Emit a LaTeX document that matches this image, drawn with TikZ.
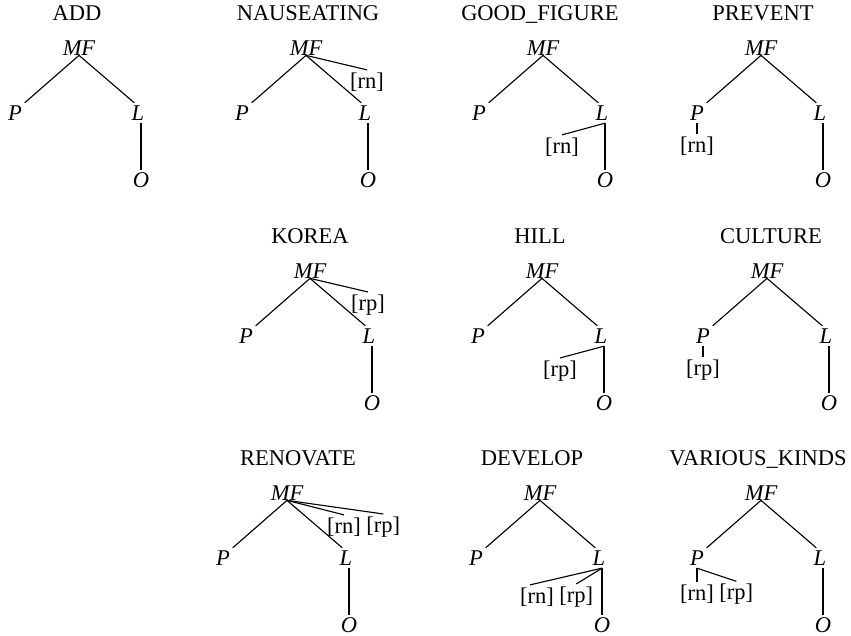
\documentclass[tikz,border=0pt]{standalone}
\usepackage{fontspec}
\setmainfont{Liberation Serif}
\usetikzlibrary{positioning}

\tikzset{
	lab/.style={inner sep=1pt, outer sep=1pt, font=\fontsize{16}{19}\selectfont},
	var/.style={lab, font=\fontsize{16}{19}\selectfont\itshape},
	root/.style={var, inner sep=0pt, outer sep=0pt},
	ttl/.style={lab, anchor=base},
}

% tree: name, MF x, MF y, title x, title
\newcommand{\mftree}[5]{%
	\node[root] (#1mf) at (#2,#3) {MF};
	\node[ttl] (#1t) at (#4,#3-27) {#5};
	\node[var] (#1p) at (#2-64,#3+65) {P};
	\node[var] (#1l) at (#2+59,#3+65) {L};
	\node[var] (#1o) at (#2+62,#3+132) {O};
	\coordinate (#1lb) at (#1o.north |- #1l.south);
	\draw (#1mf.south) -- (#1p.north east);
	\draw (#1mf.south) -- (#1l.110);
	\draw (#1lb) -- (#1o.north);
}

\begin{document}
\begin{tikzpicture}[x=0.025cm, y=-0.025cm, line width=0.8pt]
	\useasboundingbox (0,0) rectangle (851,636);

	\mftree{add}{79}{48}{77}{ADD}
	\mftree{nau}{306}{48}{308}{NAUSEATING}
	\mftree{good}{543}{48}{540}{GOOD\_FIGURE}
	\mftree{prev}{761}{48}{763}{PREVENT}

	\mftree{kor}{310}{271}{310}{KOREA}
	\mftree{hill}{542}{271}{540}{HILL}
	\mftree{cult}{767}{271}{771}{CULTURE}

	\mftree{ren}{287}{493}{298}{RENOVATE}
	\mftree{dev}{540}{493}{532}{DEVELOP}
	\mftree{var}{761}{493}{758}{VARIOUS\_KINDS}

	% extra branches
	\node[lab] (naurn) at (367,82) {[rn]};
	\draw (naumf.south) -- (naurn.north);

	\node[lab] (goodrn) at (562,147) {[rn]};
	\draw (goodlb) -- (goodrn.north);

	\node[lab, below=8pt of prevp] (prevrn) {[rn]};
	\draw (prevrn.north |- prevp.south) -- (prevrn.north);

	\node[lab] (korrp) at (368,305) {[rp]};
	\draw (kormf.south) -- (korrp.north);

	\node[lab] (hillrp) at (560,371) {[rp]};
	\draw (hilllb) -- (hillrp.north);

	\node[lab, below=8pt of cultp] (cultrp) {[rp]};
	\draw (cultrp.north |- cultp.south) -- (cultrp.north);

	\node[lab] (renrn) at (344,527) {[rn]};
	\node[lab, right=0pt of renrn] (renrp) {[rp]};
	\draw (renmf.south) -- (renrn.north);
	\draw (renmf.south) -- (renrp.north);

	\node[lab] (devrn) at (537,597) {[rn]};
	\node[lab, right=0pt of devrn] (devrp) {[rp]};
	\draw (devlb) -- (devrn.120);
	\draw (devlb) -- (devrp.north);

	\node[lab, below=10pt of varp] (varrn) {[rn]};
	\node[lab, right=0pt of varrn] (varrp) {[rp]};
	\coordinate (varpb) at (varrn.north |- varp.south);
	\draw (varpb) -- (varrn.north);
	\draw (varpb) -- (varrp.north);
\end{tikzpicture}
\end{document}
